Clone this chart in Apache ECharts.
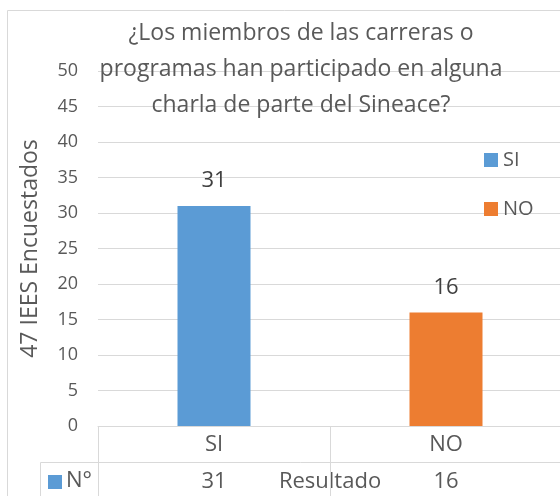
<!DOCTYPE html>
<html>
<head>
<meta charset="utf-8">
<script src="https://cdn.jsdelivr.net/npm/echarts@6/dist/echarts.min.js"></script>
<style>
  html, body { margin: 0; padding: 0; background: #fff; }
  #chart { width: 560px; height: 496px; }
</style>
</head>
<body>
<div id="chart"></div>
<script>
// datos
var categorias = ['SI', 'NO'];
var valores = [31, 16];
var colores = ['#5b9bd5', '#ed7d31'];
var yTicks = { min: 0, max: 50, interval: 5 };

var fuente = 'Open Sans';
var gris = '#595959';
var linea = '#d9d9d9';

// una serie por categoria para que la leyenda muestre SI / NO
var series = [];
categorias.forEach(function (cat, i) {
    var data = categorias.map(function (c, j) { return j === i ? valores[i] : '-'; });
    series.push({
        name: cat,
        type: 'bar',
        barWidth: 73,
        barGap: '-100%',
        itemStyle: { color: colores[i] },
        label: {
            show: true,
            position: 'top',
            distance: 14,
            fontFamily: fuente,
            fontSize: 22,
            color: '#404040'
        },
        data: data
    });
});

var option = {
    animation: false,
    textStyle: { fontFamily: fuente },
    title: {
        text: '¿Los miembros de las carreras o\nprogramas han participado en alguna\ncharla de parte del Sineace?',
        left: 296,
        top: 10,
        textAlign: 'center',
        textStyle: {
            fontFamily: fuente,
            fontSize: 23,
            fontWeight: 'normal',
            color: gris,
            lineHeight: 36
        }
    },
    legend: {
        orient: 'vertical',
        left: 484,
        top: 150,
        padding: 0,
        itemWidth: 14,
        itemHeight: 14,
        itemGap: 29,
        icon: 'rect',
        textStyle: { fontFamily: fuente, fontSize: 20, color: gris },
        data: categorias
    },
    grid: {
        left: 98,
        right: -2,
        top: 71,
        bottom: 70,
        outerBoundsMode: 'none',
        containLabel: false
    },
    xAxis: {
        type: 'category',
        data: categorias,
        name: 'Resultado',
        nameLocation: 'middle',
        nameGap: 45,
        nameMoveOverlap: false,
        nameTextStyle: { fontFamily: fuente, fontSize: 22, color: gris },
        axisLine: { show: true, lineStyle: { color: linea, width: 1 } },
        axisTick: { show: true, length: 70, interval: 0, lineStyle: { color: linea } },
        axisLabel: {
            margin: 0,
            interval: 0,
            formatter: function (v, i) {
                return '{a|' + v + '}\n{a|' + valores[i] + '}';
            },
            rich: {
                a: { fontFamily: fuente, fontSize: 22, color: gris, lineHeight: 37 }
            }
        }
    },
    yAxis: {
        type: 'value',
        min: yTicks.min,
        max: yTicks.max,
        interval: yTicks.interval,
        name: '47 IEES Encuestados',
        nameLocation: 'middle',
        nameGap: 56,
        nameMoveOverlap: false,
        nameTextStyle: { fontFamily: fuente, fontSize: 23, color: gris },
        axisLine: { show: false },
        axisTick: { show: false },
        axisLabel: { margin: 20, fontFamily: fuente, fontSize: 18, color: gris },
        splitLine: { lineStyle: { color: linea, width: 1 } }
    },
    graphic: [
        {
            type: 'rect',
            shape: { x: 7.5, y: 10.5, width: 700, height: 700 },
            style: { fill: 'none', stroke: linea, lineWidth: 1 },
            silent: true
        },
        {
            type: 'line',
            shape: { x1: 40.5, y1: 462.5, x2: 600, y2: 462.5 },
            style: { stroke: linea, lineWidth: 1 }
        },
        {
            type: 'line',
            shape: { x1: 40.5, y1: 462.5, x2: 40.5, y2: 500 },
            style: { stroke: linea, lineWidth: 1 }
        },
        {
            type: 'rect',
            shape: { x: 48, y: 475, width: 14, height: 14 },
            style: { fill: colores[0] }
        },
        {
            type: 'text',
            left: 66,
            top: 470,
            style: { text: 'N°', fontFamily: fuente, fontSize: 22, fill: gris }
        }
    ],
    series: series
};

var chart = echarts.init(document.getElementById('chart'));
chart.setOption(option, true);
</script>
</body>
</html>
